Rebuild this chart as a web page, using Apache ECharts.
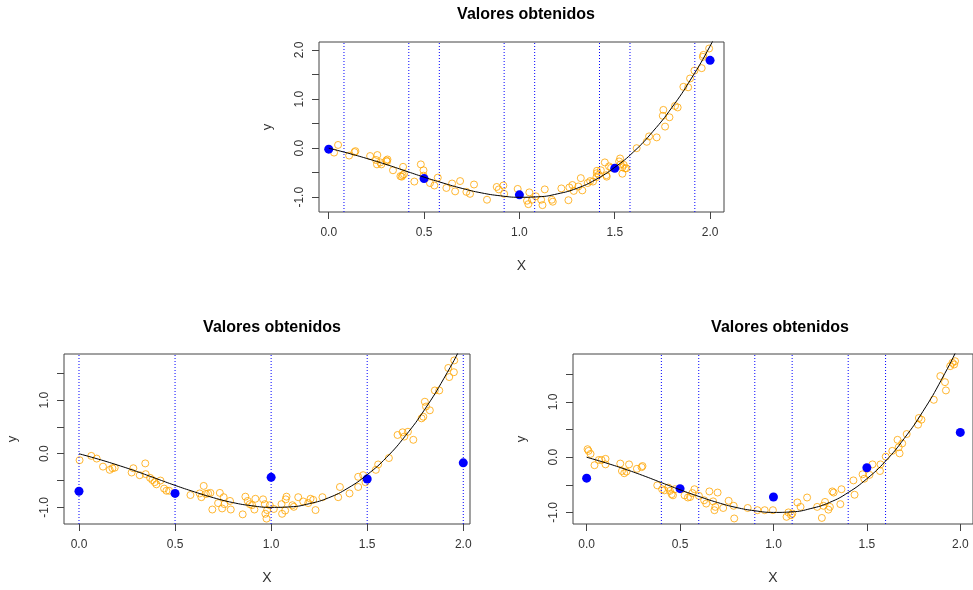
<!DOCTYPE html>
<html>
<head>
<meta charset="utf-8">
<script src="https://cdn.jsdelivr.net/npm/echarts@6/dist/echarts.min.js"></script>
<style>
  html, body { margin: 0; padding: 0; background: #fff; }
  #chart { width: 973px; height: 590px; }
</style>
</head>
<body>
<div id="chart"></div>
<script>
var chart = echarts.init(document.getElementById('chart'));

// fitted curve (same in all three panels)
var curveX = [0, 0.1, 0.2, 0.3, 0.4, 0.5, 0.6, 0.7, 0.8, 0.9, 1.0, 1.1, 1.2, 1.3, 1.4, 1.5, 1.6, 1.7, 1.8, 1.9, 2.0, 2.1];
var curveY = [0, -0.10, -0.21, -0.33, -0.46, -0.59, -0.71, -0.82, -0.91, -0.97, -1.0, -0.99, -0.93, -0.82, -0.64, -0.39, -0.07, 0.34, 0.83, 1.41, 2.08, 2.85];

// blue points at the nodes
var nodeX = [0, 0.5, 1.0, 1.5, 2.0];
var nodeTopY = [-0.02, -0.62, -0.95, -0.41, 1.79];
var nodeLeftY = [-0.70, -0.74, -0.44, -0.47, -0.17];
var nodeRightY = [-0.38, -0.57, -0.72, -0.19, 0.45];

// vertical dotted lines
var knotsTop = [0.08, 0.42, 0.58, 0.92, 1.08, 1.42, 1.58, 1.92];
var knotsLeft = [0, 0.5, 1.0, 1.5, 2.0];
var knotsRight = [0.4, 0.6, 0.9, 1.1, 1.4, 1.6];

// observed data (orange circles)
var obsTop = [
  [0.028, -0.09], [0.049, 0.066], [0.107, -0.15], [0.135, -0.08], [0.14, -0.06], [0.217, -0.16],
  [0.248, -0.24], [0.253, -0.33], [0.255, -0.14], [0.271, -0.29], [0.276, -0.33], [0.302, -0.25],
  [0.306, -0.27], [0.308, -0.23], [0.337, -0.45], [0.376, -0.57], [0.383, -0.58], [0.388, -0.55],
  [0.390, -0.38], [0.395, -0.53], [0.449, -0.68], [0.483, -0.33], [0.497, -0.45], [0.497, -0.56],
  [0.531, -0.71], [0.554, -0.76], [0.572, -0.60], [0.617, -0.81], [0.647, -0.72], [0.663, -0.88],
  [0.689, -0.67], [0.722, -0.89], [0.741, -0.93], [0.762, -0.74], [0.830, -1.05], [0.881, -0.79],
  [0.892, -0.84], [0.916, -0.76], [0.920, -0.93], [0.991, -0.83], [1.040, -1.07], [1.047, -1.14],
  [1.052, -0.90], [1.066, -1.05], [1.086, -0.98], [1.114, -1.05], [1.121, -1.16], [1.133, -0.84],
  [1.170, -1.05], [1.175, -1.09], [1.220, -0.82], [1.257, -1.06], [1.262, -0.80], [1.278, -0.75],
  [1.285, -0.87], [1.309, -0.78], [1.322, -0.61], [1.330, -0.86], [1.358, -0.71], [1.371, -0.67],
  [1.386, -0.68], [1.404, -0.59], [1.406, -0.51], [1.407, -0.46], [1.416, -0.54], [1.427, -0.45],
  [1.448, -0.29], [1.456, -0.55], [1.458, -0.58], [1.470, -0.37], [1.481, -0.40], [1.523, -0.27],
  [1.528, -0.21], [1.531, -0.33], [1.540, -0.52], [1.540, -0.39], [1.547, -0.34], [1.554, -0.41],
  [1.561, -0.41], [1.615, 0.0], [1.668, 0.13], [1.68, 0.24], [1.72, 0.22], [1.752, 0.66],
  [1.755, 0.78], [1.764, 0.44], [1.787, 0.63], [1.816, 0.86], [1.830, 0.83], [1.860, 1.25],
  [1.885, 1.24], [1.895, 1.42], [1.918, 1.58], [1.956, 1.63], [1.962, 1.86], [1.965, 1.90],
  [1.995, 2.03]
];
var obsLeft = [
  [0.003, -0.12], [0.064, -0.04], [0.092, -0.09], [0.125, -0.24], [0.16, -0.30], [0.174, -0.27],
  [0.186, -0.26], [0.274, -0.35], [0.283, -0.27], [0.316, -0.40], [0.345, -0.18], [0.347, -0.38],
  [0.370, -0.45], [0.382, -0.49], [0.394, -0.53], [0.403, -0.57], [0.424, -0.50], [0.443, -0.65],
  [0.455, -0.69], [0.469, -0.69], [0.580, -0.77], [0.628, -0.74], [0.637, -0.81], [0.649, -0.60],
  [0.660, -0.75], [0.672, -0.74], [0.684, -0.73], [0.694, -1.04], [0.724, -0.92], [0.733, -0.73],
  [0.745, -1.02], [0.753, -0.81], [0.757, -0.94], [0.786, -0.88], [0.790, -1.04], [0.852, -1.13],
  [0.866, -0.80], [0.878, -0.88], [0.889, -0.94], [0.901, -0.96], [0.913, -1.04], [0.918, -0.84],
  [0.958, -0.85], [0.967, -0.94], [0.970, -1.12], [0.976, -1.21], [0.979, -1.05], [0.993, -0.96],
  [1.014, -1.03], [1.054, -0.94], [1.057, -1.12], [1.073, -1.06], [1.076, -0.85], [1.080, -0.80],
  [1.111, -0.96], [1.118, -0.99], [1.141, -0.81], [1.167, -0.89], [1.193, -0.92], [1.205, -0.84],
  [1.219, -0.86], [1.231, -1.05], [1.267, -0.81], [1.349, -0.81], [1.358, -0.62], [1.408, -0.74],
  [1.453, -0.43], [1.453, -0.62], [1.479, -0.40], [1.491, -0.53], [1.545, -0.30], [1.557, -0.20],
  [1.613, -0.08], [1.658, 0.35], [1.684, 0.40], [1.693, 0.32], [1.712, 0.41], [1.740, 0.26],
  [1.783, 0.66], [1.792, 0.69], [1.800, 0.97], [1.806, 0.88], [1.826, 0.81], [1.852, 1.18],
  [1.875, 1.18], [1.922, 1.60], [1.927, 1.43], [1.951, 1.52], [1.953, 1.74]
];
var obsRight = [
  [0.005, 0.145], [0.01, 0.115], [0.021, 0.06], [0.042, -0.145], [0.065, -0.05], [0.080, -0.05],
  [0.101, -0.03], [0.101, -0.13], [0.180, -0.115], [0.189, -0.25], [0.201, -0.29], [0.213, -0.26],
  [0.227, -0.13], [0.269, -0.21], [0.294, -0.18], [0.299, -0.16], [0.378, -0.51], [0.404, -0.58],
  [0.416, -0.60], [0.437, -0.55], [0.446, -0.61], [0.455, -0.67], [0.462, -0.69], [0.472, -0.58],
  [0.524, -0.69], [0.542, -0.73], [0.554, -0.72], [0.566, -0.65], [0.577, -0.58], [0.601, -0.70],
  [0.629, -0.78], [0.640, -0.84], [0.657, -0.62], [0.677, -0.80], [0.684, -0.96], [0.689, -0.90],
  [0.701, -0.64], [0.731, -0.92], [0.760, -0.79], [0.787, -0.88], [0.790, -1.11], [0.862, -0.92],
  [0.914, -0.96], [0.953, -0.96], [0.997, -0.96], [1.070, -1.08], [1.080, -1.0], [1.094, -1.05],
  [1.101, -1.02], [1.128, -0.82], [1.145, -0.90], [1.180, -0.73], [1.234, -0.90], [1.259, -1.10],
  [1.267, -0.88], [1.276, -0.81], [1.294, -0.95], [1.302, -0.90], [1.315, -0.62], [1.322, -0.64],
  [1.358, -0.85], [1.364, -0.58], [1.428, -0.42], [1.434, -0.68], [1.477, -0.31], [1.486, -0.39],
  [1.514, -0.32], [1.530, -0.13], [1.570, -0.25], [1.573, -0.13], [1.601, 0.01], [1.636, 0.115],
  [1.664, 0.315], [1.670, 0.18], [1.675, 0.07], [1.689, 0.25], [1.713, 0.42], [1.774, 0.59],
  [1.778, 0.71], [1.792, 0.68], [1.858, 1.04], [1.893, 1.47], [1.918, 1.36], [1.923, 1.21],
  [1.946, 1.65], [1.958, 1.71], [1.967, 1.68], [1.972, 1.74]
];

var xTicks = [0, 0.5, 1.0, 1.5, 2.0];
var yTicks = [-1.0, -0.5, 0, 0.5, 1.0, 1.5, 2.0];
var yLabels = [-1.0, 0, 1.0, 2.0];

// axis ranges per panel: [xmin, xmax, ymin, ymax]
var rangeTop = [-0.051, 2.073, -1.30, 2.163];
var rangeLeft = [-0.078, 2.035, -1.31, 1.86];
var rangeRight = [-0.073, 2.068, -1.21, 1.87];

var FONT = 'Liberation Sans, Arial, sans-serif';

function zip(xs, ys) {
    var res = [];
    for (var i = 0; i < xs.length; i++) res.push([xs[i], ys[i]]);
    return res;
}

function xAxisCfg(idx, r) {
    return {
        type: 'value', gridIndex: idx, min: r[0], max: r[1],
        splitLine: { show: false },
        axisLine: { show: false, onZero: false },
        axisTick: { show: true, inside: false, length: 7, customValues: xTicks, lineStyle: { color: '#444' } },
        axisLabel: {
            customValues: xTicks, margin: 15, color: '#333', fontSize: 12, fontFamily: FONT,
            formatter: function (v) { return v.toFixed(1); }
        },
        name: 'X', nameLocation: 'middle', nameGap: 47,
        nameTextStyle: { fontSize: 14, color: '#333', fontFamily: FONT }
    };
}

function yAxisCfg(idx, r) {
    return {
        type: 'value', gridIndex: idx, min: r[2], max: r[3],
        splitLine: { show: false },
        axisLine: { show: false, onZero: false },
        axisTick: { show: true, inside: false, length: 7, customValues: yTicks, lineStyle: { color: '#444' } },
        axisLabel: {
            customValues: yLabels, margin: 13, rotate: 90, color: '#333', fontSize: 12, fontFamily: FONT,
            formatter: function (v) { return v.toFixed(1); }
        },
        name: 'y', nameLocation: 'middle', nameGap: 45,
        nameTextStyle: { fontSize: 13, color: '#333', fontFamily: FONT }
    };
}

function panelSeries(idx, r, obs, nodeY, knots) {
    var list = [];
    // one vertical dotted line per knot, spanning the full y range
    knots.forEach(function (k) {
        list.push({
            type: 'line', xAxisIndex: idx, yAxisIndex: idx, silent: true,
            data: [[k, r[2]], [k, r[3]]], showSymbol: false,
            lineStyle: { color: '#0000FF', type: [1, 2], width: 1 }
        });
    });
    list.push({
        type: 'scatter', xAxisIndex: idx, yAxisIndex: idx, data: obs,
        symbol: 'circle', symbolSize: 7,
        itemStyle: { color: 'rgba(0,0,0,0)', borderColor: '#FFA500', borderWidth: 1 }
    });
    list.push({
        type: 'line', xAxisIndex: idx, yAxisIndex: idx, data: zip(curveX, curveY),
        smooth: true, showSymbol: false, clip: true,
        lineStyle: { color: '#000', width: 1 }
    });
    list.push({
        type: 'scatter', xAxisIndex: idx, yAxisIndex: idx, data: zip(nodeX, nodeY),
        symbol: 'circle', symbolSize: 9, itemStyle: { color: '#0000FF', opacity: 1 }
    });
    return list;
}

var titleStyle = { fontSize: 16, fontWeight: 'bold', color: '#000', fontFamily: FONT };

var option = {
    animation: false,
    backgroundColor: '#fff',
    title: [
        { text: 'Valores obtenidos', left: 521, top: 2, textAlign: 'center', textStyle: titleStyle },
        { text: 'Valores obtenidos', left: 267, top: 315, textAlign: 'center', textStyle: titleStyle },
        { text: 'Valores obtenidos', left: 775, top: 315, textAlign: 'center', textStyle: titleStyle }
    ],
    grid: [
        { left: 319, top: 42, width: 405, height: 170, show: true, borderColor: '#444', borderWidth: 1, backgroundColor: 'transparent' },
        { left: 64, top: 354, width: 406, height: 170, show: true, borderColor: '#444', borderWidth: 1, backgroundColor: 'transparent' },
        { left: 573, top: 354, width: 408, height: 170, show: true, borderColor: '#444', borderWidth: 1, backgroundColor: 'transparent' }
    ],
    xAxis: [xAxisCfg(0, rangeTop), xAxisCfg(1, rangeLeft), xAxisCfg(2, rangeRight)],
    yAxis: [yAxisCfg(0, rangeTop), yAxisCfg(1, rangeLeft), yAxisCfg(2, rangeRight)],
    series: [].concat(
        panelSeries(0, rangeTop, obsTop, nodeTopY, knotsTop),
        panelSeries(1, rangeLeft, obsLeft, nodeLeftY, knotsLeft),
        panelSeries(2, rangeRight, obsRight, nodeRightY, knotsRight)
    )
};
chart.setOption(option);
</script>
</body>
</html>
